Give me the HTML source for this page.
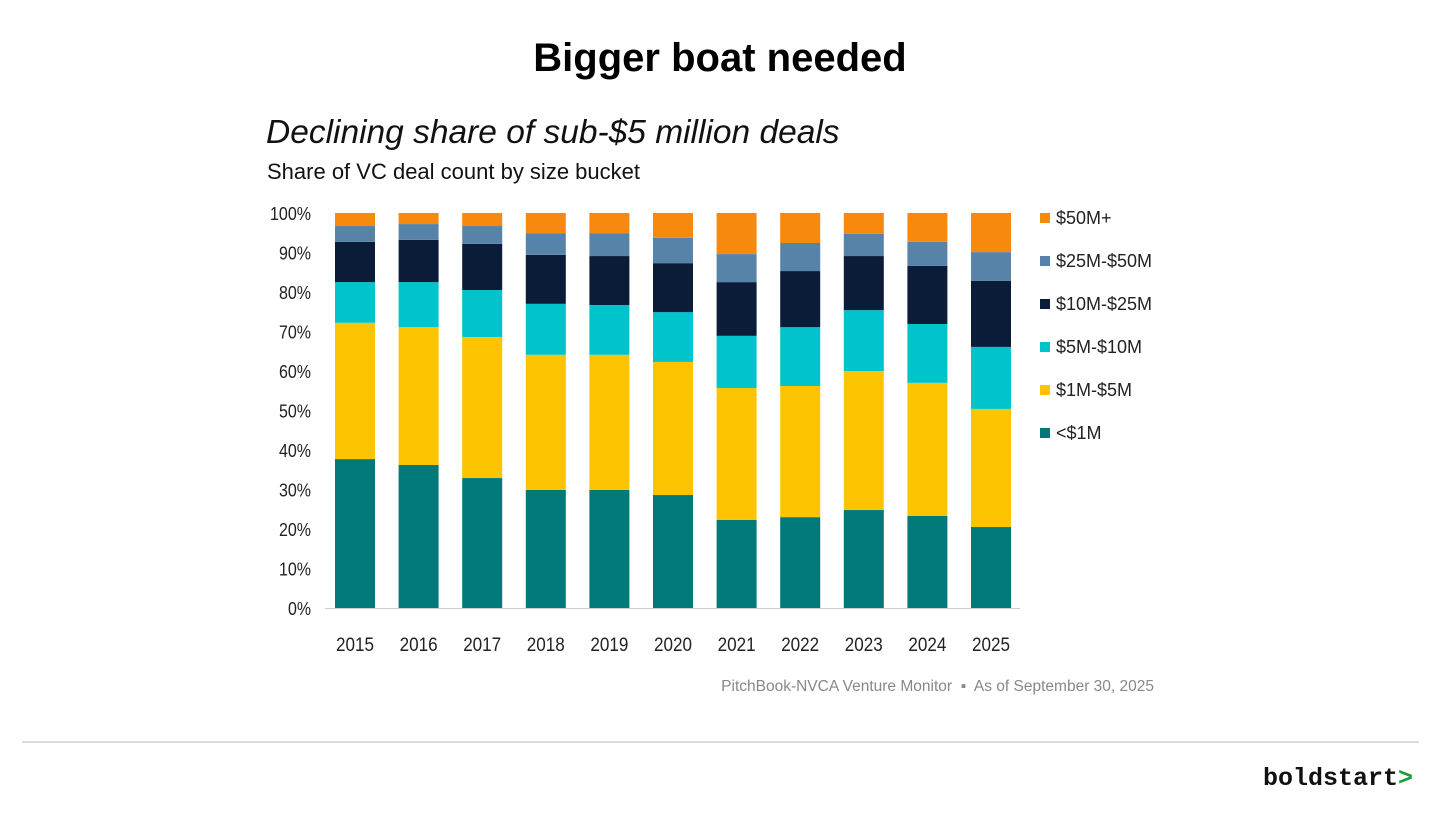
<!DOCTYPE html>
<html><head><meta charset="utf-8"><style>
body{margin:0;width:1456px;height:816px;background:#fff;overflow:hidden;font-family:"Liberation Sans",sans-serif;position:relative}
.t{position:absolute;white-space:nowrap}
</style></head><body>
<div class="t" style="left:0;width:1440px;text-align:center;top:36px;font-size:40px;font-weight:bold;color:#000">Bigger boat needed</div>
<div class="t" style="left:266px;top:114px;font-size:33.5px;font-style:italic;color:#111">Declining share of sub-$5 million deals</div>
<div class="t" style="left:267px;top:159px;font-size:22px;color:#111">Share of VC deal count by size bucket</div>
<div class="t" style="right:302px;top:678px;font-size:15.5px;color:#888">PitchBook-NVCA Venture Monitor &nbsp;▪&nbsp; As of September 30, 2025</div>
<div style="position:absolute;left:22px;top:741px;width:1397px;height:2px;background:#ddd"></div>
<div class="t" style="left:1263px;top:764px;font-size:25px;font-weight:bold;font-family:'Liberation Mono',monospace;color:#111">boldstart<span style="color:#1a9c3a">&gt;</span></div>
<svg id="chart" width="1456" height="816" style="position:absolute;left:0;top:0"></svg>
<script>
const years=["2015","2016","2017","2018","2019","2020","2021","2022","2023","2024","2025"];
const seriesNames=["<$1M","$1M-$5M","$5M-$10M","$10M-$25M","$25M-$50M","$50M+"];
const sUnder1=[37.7,36.2,32.9,29.9,29.9,28.6,22.3,23.0,24.8,23.3,20.5];
const s1to5=[34.5,34.9,35.7,34.2,34.2,33.7,33.4,33.2,35.2,33.7,29.9];
const s5to10=[10.3,11.4,11.9,12.9,12.6,12.6,13.2,14.9,15.4,14.9,15.7];
const s10to25=[10.2,10.7,11.7,12.4,12.4,12.4,13.6,14.2,13.7,14.7,16.7];
const s25to50=[4.0,4.0,4.5,5.5,5.8,6.4,7.1,7.1,5.6,6.1,7.3];
const s50plus=[3.3,2.8,3.3,5.1,5.1,6.3,10.4,7.6,5.3,7.3,9.9];
const yTicks=[0,10,20,30,40,50,60,70,80,90,100];
const series=[sUnder1,s1to5,s5to10,s10to25,s25to50,s50plus];
const colors=["#007a79","#fcc400","#00c3cb","#0b1c38","#5883a8","#f7890f"];
const NS="http://www.w3.org/2000/svg",svg=document.getElementById("chart");
const y0=608,y100=213,yS=v=>y0-(y0-y100)*v/100;
const x0=335,step=63.6,bw=40,xS=i=>x0+i*step;
function el(t,a,txt){const e=document.createElementNS(NS,t);for(const k in a)e.setAttribute(k,a[k]);if(txt!=null)e.textContent=txt;svg.appendChild(e);return e;}
const ff="Liberation Sans Narrow, Liberation Sans, sans-serif";
yTicks.forEach(v=>{const e=el("text",{x:311,y:yS(v)+7,"text-anchor":"end","font-size":18,fill:"#222","font-family":ff,textLength:String(v).length*9+14,lengthAdjust:"spacingAndGlyphs"},v+"%");

});
years.forEach((yr,i)=>{
  let cum=0;const tot=series.reduce((s,a)=>s+a[i],0);
  series.forEach((arr,k)=>{const v=arr[i]/tot*100;const r=el("rect",{x:xS(i),y:yS(cum+v),width:bw,height:yS(cum)-yS(cum+v),fill:colors[k]});
  
  
  cum+=v;});
  const t=el("text",{x:xS(i)+bw/2,y:651,"text-anchor":"middle","font-size":19,fill:"#222","font-family":ff,textLength:38,lengthAdjust:"spacingAndGlyphs"},yr);
  
  
});
const ax=el("line",{x1:325,x2:1020,y1:y0+0.5,y2:y0+0.5,stroke:"#ccc","stroke-width":1});


for(let k=5;k>=0;k--){const ly=218+(5-k)*43;
  const r=el("rect",{x:1040,y:ly-5,width:10,height:10,fill:colors[k]});
  
  
  const t=el("text",{x:1056,y:ly+6,"font-size":18,fill:"#222","font-family":ff},seriesNames[k]);
  
  
}
</script>
</body></html>
